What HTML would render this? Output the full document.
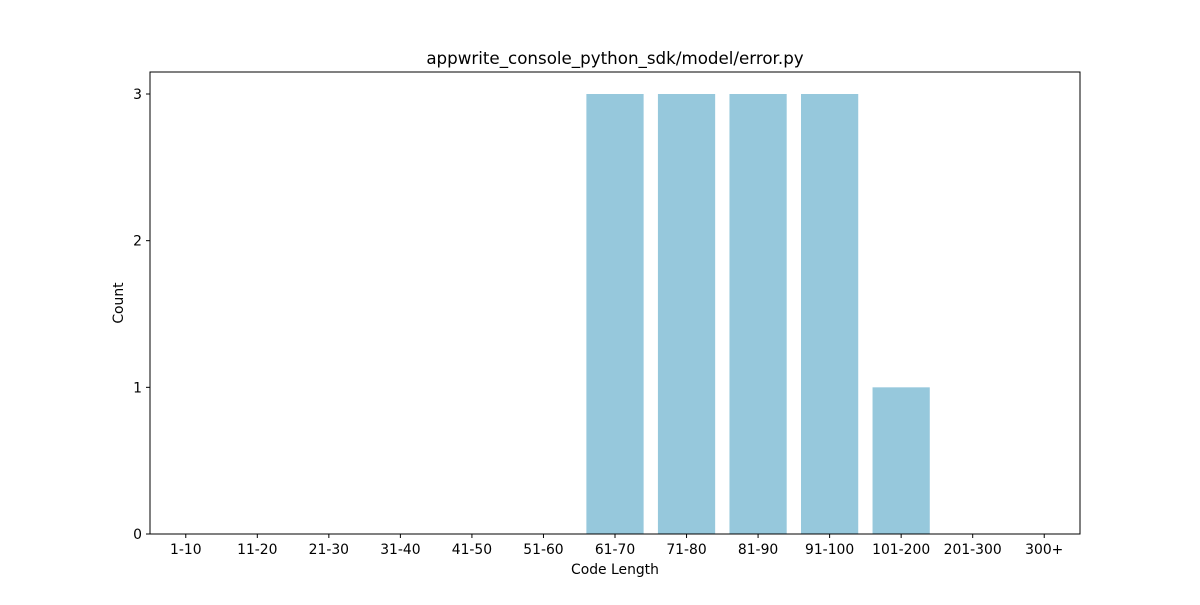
<!DOCTYPE html>
<html><head><meta charset="utf-8"><style>
body{margin:0;background:#fff;font-family:"Liberation Sans","DejaVu Sans",sans-serif;}
</style></head><body>
<svg width="1200" height="600" xmlns="http://www.w3.org/2000/svg" font-family="DejaVu Sans, Liberation Sans, sans-serif">
<rect width="1200" height="600" fill="#fff"/>
<g id="plot"></g>
<text x="615" y="64" text-anchor="middle" font-size="16.7">appwrite_console_python_sdk/model/error.py</text>
<text x="615" y="574" text-anchor="middle" font-size="13.9">Code Length</text>
<text x="123" y="303" text-anchor="middle" font-size="13.9" transform="rotate(-90 123 303)">Count</text>
</svg>
<script>
const categories=["1-10","11-20","21-30","31-40","41-50","51-60","61-70","71-80","81-90","91-100","101-200","201-300","300+"];
const counts=[0,0,0,0,0,0,3,3,3,3,1,0,0];
const yTicks=[0,1,2,3];
const L=150,R=1080,T=72,B=534,yMax=3.15;
const ns="http://www.w3.org/2000/svg";
const g=document.getElementById('plot');
const step=(R-L)/categories.length;
const x=i=>L+(i+0.5)*step;
const y=v=>B-(v/yMax)*(B-T);
function mk(t,a){const e=document.createElementNS(ns,t);for(const k in a)e.setAttribute(k,a[k]);g.appendChild(e);return e;}
counts.forEach((v,i)=>{
 const w=step*0.8;
 const r=mk('rect',{x:x(i)-w/2,y:y(v),width:w,height:B-y(v),fill:'#96c8dc'});
 
 
 const tk=mk('line',{x1:x(i),x2:x(i),y1:B,y2:B+4,stroke:'#000'});
 
 
 const lb=mk('text',{x:x(i),y:B+20,'text-anchor':'middle','font-size':13.9});
 lb.textContent=categories[i];
 
 
});
yTicks.forEach(v=>{
 const tk=mk('line',{x1:L-4,x2:L,y1:y(v),y2:y(v),stroke:'#000'});
 
 
 const lb=mk('text',{x:L-8,y:y(v)+5,'text-anchor':'end','font-size':13.9});
 lb.textContent=v;
 
 
});
const f=mk('rect',{x:L,y:T,width:R-L,height:B-T,fill:'none',stroke:'#000','stroke-width':1});


</script>
</body></html>
